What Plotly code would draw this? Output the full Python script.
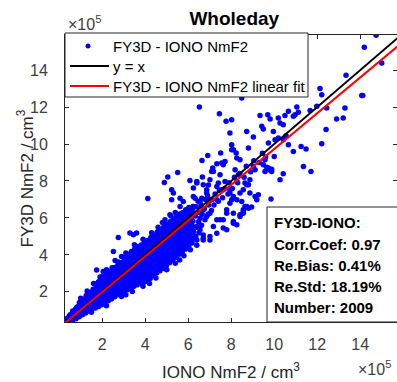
import numpy as np
import plotly.graph_objects as go

SCALE = 1e5  # values below are in units of 1e5 cm^-3

# Dense band of (IONO, FY3D) points (units 1e5)
band_points = [
    (0.32,0.30),(0.36,0.36),(0.30,0.42),(0.38,0.48),(0.34,0.55),
    (0.47,0.36),(0.52,0.44),(0.49,0.52),(0.53,0.61),(0.46,0.68),(0.51,0.76),
    (0.62,0.46),(0.67,0.55),(0.64,0.63),(0.69,0.72),(0.61,0.80),(0.66,0.88),(0.63,0.97),
    (0.78,0.55),(0.83,0.64),(0.79,0.73),(0.84,0.82),(0.77,0.91),(0.81,1.00),(0.76,1.08),(0.82,1.17),
    (0.93,0.65),(0.98,0.76),(0.94,0.86),(0.99,0.95),(0.92,1.05),(0.96,1.14),(0.91,1.24),(0.97,1.33),(0.94,1.42),
    (1.08,0.76),(1.13,0.86),(1.09,0.96),(1.14,1.06),(1.07,1.15),(1.11,1.25),(1.06,1.35),(1.12,1.45),(1.09,1.56),
    (1.23,0.86),(1.28,0.97),(1.24,1.08),(1.29,1.18),(1.22,1.28),(1.26,1.38),(1.21,1.49),(1.27,1.59),(1.24,1.70),(1.26,1.81),
    (1.38,0.96),(1.43,1.07),(1.39,1.18),(1.44,1.29),(1.37,1.40),(1.41,1.50),(1.36,1.61),(1.42,1.72),(1.39,1.84),(1.43,1.97),
    (1.53,1.06),(1.58,1.18),(1.54,1.30),(1.59,1.41),(1.52,1.53),(1.56,1.64),(1.51,1.76),(1.57,1.88),(1.54,2.00),(1.58,2.14),
    (1.68,1.13),(1.73,1.26),(1.69,1.39),(1.74,1.51),(1.67,1.63),(1.71,1.76),(1.66,1.88),(1.72,2.00),(1.69,2.13),(1.73,2.27),(1.68,2.42),
    (1.83,1.21),(1.88,1.34),(1.84,1.47),(1.89,1.60),(1.82,1.73),(1.86,1.86),(1.81,1.99),(1.87,2.12),(1.84,2.25),(1.88,2.39),(1.83,2.55),
    (1.98,1.31),(2.03,1.45),(1.99,1.59),(2.04,1.72),(1.97,1.86),(2.01,1.99),(1.96,2.12),(2.02,2.26),(1.99,2.40),(2.03,2.54),(1.98,2.70),(2.01,2.85),
    (2.13,1.42),(2.18,1.56),(2.14,1.70),(2.19,1.84),(2.12,1.98),(2.16,2.12),(2.11,2.26),(2.17,2.40),(2.14,2.54),(2.18,2.69),(2.13,2.84),(2.16,3.00),
    (2.28,1.52),(2.33,1.67),(2.29,1.82),(2.34,1.96),(2.27,2.10),(2.31,2.25),(2.26,2.39),(2.32,2.53),(2.29,2.68),(2.33,2.83),(2.28,2.98),
    (2.43,1.62),(2.48,1.77),(2.44,1.93),(2.49,2.08),(2.42,2.23),(2.46,2.38),(2.41,2.53),(2.47,2.68),(2.44,2.83),(2.48,2.98),(2.43,3.14),(2.46,3.30),
    (2.58,1.74),(2.63,1.90),(2.59,2.06),(2.64,2.21),(2.57,2.37),(2.61,2.52),(2.56,2.68),(2.62,2.83),(2.59,2.99),(2.63,3.15),(2.58,3.32),
    (2.73,1.84),(2.78,2.00),(2.74,2.16),(2.79,2.32),(2.72,2.48),(2.76,2.64),(2.71,2.80),(2.77,2.96),(2.74,3.12),(2.78,3.28),(2.73,3.45),(2.76,3.62),
    (2.88,1.94),(2.93,2.11),(2.89,2.28),(2.94,2.44),(2.87,2.60),(2.91,2.77),(2.86,2.93),(2.92,3.09),(2.89,3.26),(2.93,3.42),(2.88,3.58),
    (3.03,2.02),(3.08,2.19),(3.04,2.36),(3.09,2.53),(3.02,2.70),(3.06,2.86),(3.01,3.03),(3.07,3.20),(3.04,3.37),(3.08,3.54),(3.03,3.71),(3.06,3.88),
    (3.18,2.12),(3.23,2.30),(3.19,2.48),(3.24,2.65),(3.17,2.82),(3.21,2.99),(3.16,3.16),(3.22,3.33),(3.19,3.50),(3.23,3.67),(3.18,3.85),(3.21,4.02),
    (3.33,2.22),(3.38,2.40),(3.34,2.58),(3.39,2.76),(3.32,2.94),(3.36,3.12),(3.31,3.30),(3.37,3.48),(3.34,3.66),(3.38,3.84),(3.33,4.02),(3.36,4.18),
    (3.48,2.30),(3.53,2.49),(3.49,2.68),(3.54,2.86),(3.47,3.04),(3.51,3.22),(3.46,3.40),(3.52,3.58),(3.49,3.76),(3.53,3.94),(3.48,4.12),(3.51,4.32),
    (3.63,2.38),(3.68,2.57),(3.64,2.76),(3.69,2.95),(3.62,3.14),(3.66,3.33),(3.61,3.52),(3.67,3.70),(3.64,3.88),(3.68,4.06),(3.63,4.25),(3.66,4.44),
    (3.78,2.46),(3.83,2.66),(3.79,2.86),(3.84,3.05),(3.77,3.24),(3.81,3.43),(3.76,3.62),(3.82,3.81),(3.79,4.00),(3.83,4.18),(3.78,4.36),(3.81,4.54),
    (3.93,2.52),(3.98,2.72),(3.94,2.92),(3.99,3.12),(3.92,3.32),(3.96,3.52),(3.91,3.72),(3.97,3.91),(3.94,4.10),(3.98,4.28),(3.93,4.46),(3.96,4.64),
    (4.08,2.58),(4.13,2.79),(4.09,3.00),(4.14,3.20),(4.07,3.40),(4.11,3.60),(4.06,3.80),(4.12,4.00),(4.09,4.20),(4.13,4.39),(4.08,4.58),(4.11,4.78),
    (4.23,2.72),(4.28,2.93),(4.24,3.14),(4.29,3.35),(4.22,3.55),(4.26,3.75),(4.21,3.95),(4.27,4.15),(4.24,4.35),(4.28,4.55),(4.23,4.75),(4.26,4.94),
    (4.38,2.88),(4.43,3.08),(4.39,3.29),(4.44,3.50),(4.37,3.70),(4.41,3.90),(4.36,4.10),(4.42,4.30),(4.39,4.50),(4.43,4.70),(4.38,4.90),(4.41,5.08),
    (4.53,3.02),(4.58,3.23),(4.54,3.44),(4.59,3.65),(4.52,3.86),(4.56,4.06),(4.51,4.26),(4.57,4.46),(4.54,4.66),(4.58,4.86),(4.53,5.05),(4.56,5.24),
    (4.68,3.14),(4.73,3.36),(4.69,3.58),(4.74,3.79),(4.67,4.00),(4.71,4.20),(4.66,4.40),(4.72,4.60),(4.69,4.80),(4.73,5.00),(4.68,5.18),(4.71,5.35),
    (4.83,3.27),(4.88,3.50),(4.84,3.72),(4.89,3.94),(4.82,4.15),(4.86,4.36),(4.81,4.56),(4.87,4.76),(4.84,4.96),(4.88,5.16),(4.83,5.34),(4.86,5.50),
    (4.98,3.42),(5.03,3.64),(4.99,3.86),(5.04,4.08),(4.97,4.30),(5.01,4.51),(4.96,4.72),(5.02,4.92),(4.99,5.12),(5.03,5.32),(4.98,5.50),(5.01,5.66),
    (5.13,3.57),(5.18,3.80),(5.14,4.02),(5.19,4.24),(5.12,4.46),(5.16,4.67),(5.11,4.88),(5.17,5.08),(5.14,5.28),(5.18,5.47),(5.13,5.64),(5.16,5.80),
    (5.28,3.72),(5.33,3.96),(5.29,4.18),(5.34,4.40),(5.27,4.62),(5.31,4.83),(5.26,5.04),(5.32,5.24),(5.29,5.44),(5.33,5.63),(5.28,5.80),(5.31,5.95),
    (5.43,3.88),(5.48,4.12),(5.44,4.35),(5.49,4.57),(5.42,4.78),(5.46,4.99),(5.41,5.20),(5.47,5.40),(5.44,5.60),(5.48,5.78),(5.43,5.94),(5.46,6.06),
    (5.58,4.04),(5.63,4.27),(5.59,4.50),(5.64,4.72),(5.57,4.94),(5.61,5.15),(5.56,5.36),(5.62,5.56),(5.59,5.76),(5.63,5.94),(5.58,6.10),(5.61,6.22),
    (5.73,4.18),(5.78,4.42),(5.74,4.65),(5.79,4.88),(5.72,5.10),(5.76,5.31),(5.71,5.52),(5.77,5.72),(5.74,5.92),(5.78,6.10),(5.73,6.28),
    (5.88,4.32),(5.93,4.57),(5.89,4.80),(5.94,5.03),(5.87,5.25),(5.91,5.47),(5.86,5.68),(5.92,5.88),(5.89,6.08),(5.93,6.26),(5.88,6.44),
    (6.03,4.48),(6.08,4.74),(6.04,4.98),(6.09,5.20),(6.02,5.42),(6.06,5.64),(6.01,5.86),(6.07,6.06),(6.04,6.26),(6.08,6.44),(6.03,6.56),
    (6.18,4.64),(6.23,4.90),(6.19,5.14),(6.24,5.37),(6.17,5.60),(6.21,5.82),(6.16,6.04),(6.22,6.25),(6.19,6.45),(6.23,6.62),
    (6.35,5.00),(6.38,5.50),(6.33,6.10),(6.37,6.60),(6.50,5.20),(6.48,5.80),(6.52,6.30),(6.46,6.90),
    (6.62,5.60),(6.65,6.20),(6.60,6.70),(6.78,5.90),(6.75,6.50),(6.80,7.00),(6.92,6.20),(6.95,6.70),
    (6.90,7.20),(7.08,6.40),(7.05,7.00),(7.20,6.70),(7.25,7.30),(7.40,6.90),(7.45,7.50),(7.60,7.10),
    (7.70,7.60),(7.85,7.30),(7.90,7.90),(8.05,7.60),(8.15,8.20),(8.30,7.90),(8.40,8.40),(8.60,8.20),
    (8.70,8.80),(8.90,8.50),(9.05,9.10),(9.30,9.00),(9.45,9.50),(9.60,9.30),
]

# Points straggling off the edges of the band (units 1e5)
band_edge_points = [
    (1.50,0.90),(2.20,1.25),(2.90,1.75),(3.10,1.85),(3.40,2.02),(3.90,2.30),(4.20,2.45),(4.50,2.75),
    (5.00,3.20),(5.40,3.55),(5.60,3.72),(5.80,3.95),(6.10,4.28),(6.40,4.52),
    (1.00,1.65),(1.30,2.05),(1.60,2.45),(1.90,2.80),(2.20,3.20),(2.60,3.70),(2.90,3.92),(3.10,4.10),
    (3.50,4.55),(3.90,4.85),(4.30,5.20),(4.60,5.50),(4.80,5.75),(5.20,6.10),(5.40,6.30),
]

# Scattered points (units 1e5)
scatter_points = [
    (6.52,12.01),(7.45,11.64),(7.76,11.23),(8.02,11.32),(6.64,9.11),(6.91,9.38),(7.51,9.51),(8.02,9.69),
    (5.51,8.46),(5.05,8.21),(4.89,7.92),(4.12,7.05),(6.08,8.03),(6.40,7.97),(6.66,8.21),(7.09,8.52),
    (7.14,8.70),(7.33,8.93),(7.56,8.97),(7.71,9.06),(5.23,7.52),(5.31,7.35),(5.23,6.98),(5.62,7.07),
    (5.77,6.89),(6.24,7.62),(6.32,7.07),(6.63,7.07),(6.86,7.52),(6.94,7.79),(7.40,7.89),(7.56,7.52),
    (7.71,7.97),(7.94,7.35),(5.62,6.62),(6.24,6.62),(7.09,6.98),(7.33,6.98),(8.02,6.98),
    (8.49,12.49),(12.21,12.67),(14.12,12.62),(13.29,11.95),(12.90,11.36),(13.21,11.41),(12.44,11.95),
    (11.98,12.04),(11.67,11.82),(11.05,12.01),(11.12,11.72),(10.97,11.59),(10.89,11.50),(10.66,11.77),
    (10.50,11.54),(10.19,11.41),(10.27,11.14),(10.42,11.05),(9.81,11.36),(9.70,11.59),(9.34,11.54),
    (9.42,10.96),(9.49,10.81),(8.72,10.68),(9.03,10.38),(9.96,10.68),(9.73,10.05),(10.04,10.23),
    (10.19,10.33),(10.42,10.23),(10.55,10.45),(10.66,9.96),(10.89,9.60),(11.25,9.87),(11.48,9.73),
    (12.21,10.02),(12.41,10.78),(11.36,8.79),(11.71,8.52),(10.27,8.07),(10.42,8.39),(9.85,7.02),
    (10.00,9.33),(9.49,8.88),(9.65,8.75),(9.77,8.61),(9.88,8.64),(9.57,9.15),(9.03,8.79),(9.11,8.61),
    (8.80,9.78),(8.26,9.24),(8.41,9.15),(8.10,9.69),(8.23,9.51),(8.87,8.07),(8.80,7.80),(8.64,7.89),
    (8.18,8.61),(8.33,8.34),(8.26,7.97),(8.56,7.52),(8.87,7.35),(9.11,7.16),(9.19,6.98),(8.49,6.89),
    (8.72,6.62),(8.95,6.59),(8.56,6.35),(8.41,6.17),(7.94,7.52),(8.10,7.16),
    (9.57,8.52),(9.73,8.70),(9.88,8.52),(9.26,7.25),(8.64,6.62),(8.56,6.44),(8.72,7.80),(8.41,7.35),
    (8.26,6.98),(7.94,6.80),(8.10,6.26),(7.79,6.44),(7.63,5.90),(8.10,5.81),(8.26,5.63),(7.33,5.90),
    (7.17,5.54),(7.63,5.45),(7.79,5.36),(7.01,6.26),(6.86,6.08),(6.70,6.44),(6.55,5.99),(6.40,5.54),
    (6.55,5.36),(6.24,5.26),(6.70,5.08),(7.01,4.99),(6.70,4.81),(6.40,4.81),(7.63,8.88),(7.17,8.52),
    (7.48,8.34),(7.01,8.07),(6.70,7.80),(7.33,7.70),(6.40,7.89),(6.86,7.35),(7.63,7.52),(6.24,7.16),
    (6.55,6.89),(7.01,6.98),(8.10,5.72),(8.41,6.08),(8.56,6.26),(8.80,6.53),(7.48,5.90),(7.79,6.26),
    (7.33,5.17),(7.01,4.81),(6.70,4.90),
    (14.74,15.89),(14.19,15.24),(13.34,13.72),(15.00,14.38),(12.13,13.00),(14.07,12.62),(7.94,10.60),(8.02,9.96),
    (2.52,4.18),(3.29,5.18),(3.60,5.18),(2.75,4.94),(4.92,5.90),(3.45,5.09),(1.74,3.19),(2.05,3.10),
    (4.61,5.26),(5.15,6.17),(5.70,5.72),
]

# Linear fit coefficients
fit_slope = 0.968
fit_intercept = 0.05  # 1e5
line_x = [0.3, 16.0]  # 1e5

series_names = ["FY3D - IONO NmF2", "y = x", "FY3D - IONO NmF2 linear fit"]
series_colors = ["#0000ff", "#000000", "#ff0000"]
stats_lines = ["FY3D-IONO:", "Corr.Coef: 0.97", "Re.Bias: 0.41%", "Re.Std: 18.19%", "Number: 2009"]
tick_vals = [2, 4, 6, 8, 10, 12, 14]

pts = band_points + band_edge_points + scatter_points
iono = np.array([p[0] for p in pts]) * SCALE
fy3d = np.array([p[1] for p in pts]) * SCALE
lx = np.array(line_x) * SCALE
fit_y = fit_slope * lx + fit_intercept * SCALE

FONT = "Liberation Sans, Arial, sans-serif"
AX = "#262626"

fig = go.Figure()
fig.add_trace(go.Scatter(x=iono, y=fy3d, mode="markers", name=series_names[0], showlegend=False,
                         marker=dict(color=series_colors[0], size=5.5, line=dict(width=0))))
fig.add_trace(go.Scatter(x=lx, y=lx, mode="lines", name=series_names[1], showlegend=False,
                         line=dict(color=series_colors[1], width=2)))
fig.add_trace(go.Scatter(x=lx, y=fit_y, mode="lines", name=series_names[2], showlegend=False,
                         line=dict(color=series_colors[2], width=2)))

axis_common = dict(showline=True, linecolor=AX, linewidth=1, mirror="ticks", automargin=False,
                   ticks="inside", ticklen=4, tickcolor=AX, showgrid=False, zeroline=False,
                   tickvals=[v * SCALE for v in tick_vals], ticktext=[str(v) for v in tick_vals],
                   tickfont=dict(family=FONT, size=16, color="#404040"))

fig.update_xaxes(range=[0.27 * SCALE, 15.71 * SCALE], ticklabelstandoff=8,
                 title=dict(text="IONO NmF2 / cm<sup>3</sup>", standoff=14,
                            font=dict(family=FONT, size=17, color=AX)), **axis_common)
fig.update_yaxes(range=[0.37 * SCALE, 15.9 * SCALE], ticklabelstandoff=13, **axis_common)

# pixel -> paper helpers for the plot area (left 65, top 35, 332 x 287)
def px(x):
    return (x - 65) / 332

def py(y):
    return (322 - y) / 287

# y-axis title
fig.add_annotation(text="FY3D NmF2 / cm<sup>3</sup>", xref="paper", yref="paper",
                   x=px(25), y=0.5, xanchor="center", yanchor="middle", textangle=-90,
                   showarrow=False, font=dict(family=FONT, size=17, color=AX))

# legend box (MATLAB-style)
fig.add_shape(type="rect", xref="paper", yref="paper", x0=px(65), x1=px(308), y0=py(97), y1=py(33),
              fillcolor="white", line=dict(color=AX, width=1), layer="above")
row_y = [46, 66, 86]
fig.add_shape(type="circle", xref="paper", yref="paper", x0=px(85.5), x1=px(90.5),
              y0=py(row_y[0] + 2.5), y1=py(row_y[0] - 2.5),
              fillcolor=series_colors[0], line=dict(width=0), layer="above")
for i in (1, 2):
    fig.add_shape(type="line", xref="paper", yref="paper", x0=px(70), x1=px(109),
                  y0=py(row_y[i]), y1=py(row_y[i]), line=dict(color=series_colors[i], width=2),
                  layer="above")
for name, ry in zip(series_names, row_y):
    fig.add_annotation(text=name, xref="paper", yref="paper", x=px(111), y=py(ry),
                       xanchor="left", yanchor="middle", showarrow=False,
                       font=dict(family=FONT, size=15, color="black"))

# statistics box
fig.add_shape(type="rect", xref="paper", yref="paper", x0=px(267), x1=1.05, y0=0, y1=py(207),
              fillcolor="white", line=dict(color=AX, width=1), layer="above")
line_py = [223, 244, 265, 286, 307]
for txt, ly in zip(stats_lines, line_py):
    fig.add_annotation(text="<b>%s</b>" % txt, xref="paper", yref="paper",
                       x=px(272), y=py(ly), xanchor="left", yanchor="middle",
                       showarrow=False, font=dict(family=FONT, size=15, color="black"))

# exponent labels
fig.add_annotation(text="×10<sup>5</sup>", xref="paper", yref="paper", x=px(66),
                   y=py(23), xanchor="left", yanchor="middle", showarrow=False,
                   font=dict(family=FONT, size=16, color="#404040"))
fig.add_annotation(text="×10<sup>5</sup>", xref="paper", yref="paper", x=px(356),
                   y=py(368), xanchor="left", yanchor="middle", showarrow=False,
                   font=dict(family=FONT, size=16, color="#404040"))

fig.update_layout(
    width=397, height=382,
    margin=dict(l=65, r=0, t=35, b=60),
    paper_bgcolor="white", plot_bgcolor="white",
    title=dict(text="<b>Wholeday</b>", xref="paper", x=0.51, xanchor="center",
               yref="container", y=1 - 18 / 382, yanchor="middle",
               font=dict(family=FONT, size=19, color="black")),
    showlegend=False,
)

fig.write_html("out.html", config={"displayModeBar": False},
               post_script="document.body.style.margin='0';document.body.style.overflow='hidden';")
